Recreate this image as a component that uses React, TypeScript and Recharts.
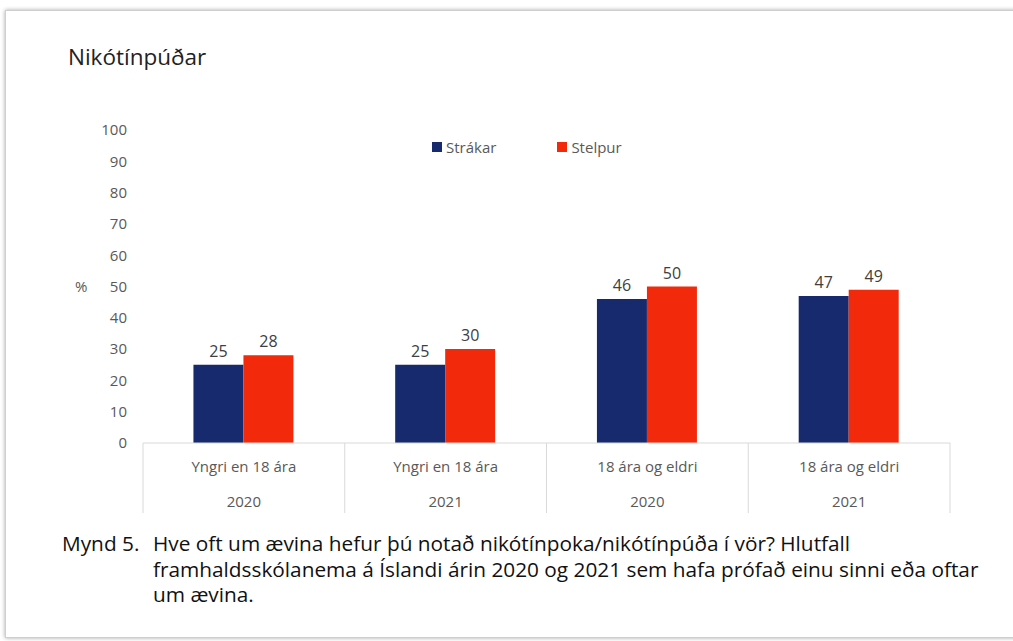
import { Bar, BarChart, LabelList, Legend, XAxis, YAxis } from "recharts";

const categories = ["Yngri en 18 ára", "Yngri en 18 ára", "18 ára og eldri", "18 ára og eldri"];
const years = ["2020", "2021", "2020", "2021"];
const strakar = [25, 25, 46, 47];
const stelpur = [28, 30, 50, 49];
const yTicks = [0, 10, 20, 30, 40, 50, 60, 70, 80, 90, 100];

const BLUE = "#172a6e";
const RED = "#f22a0b";
const GRAY = "#595959";
const LINE = "#d9d9d9";
const FONT = "'Open Sans', sans-serif";

const data = categories.map((c, i) => ({
  idx: i,
  group: c,
  year: years[i],
  strakar: strakar[i],
  stelpur: stelpur[i],
}));

const PLOT_W = 1013 - 143 - 63;

function GroupTick(props: any) {
  const { x, y, index, payload } = props;
  const half = payload?.offset || PLOT_W / categories.length / 2;
  const top = y - 8;
  return (
    <g>
      <line x1={x - half} x2={x - half} y1={top} y2={top + 70} stroke={LINE} />
      {index === categories.length - 1 && (
        <line x1={x + half} x2={x + half} y1={top} y2={top + 70} stroke={LINE} />
      )}
      <text x={x} y={top + 29} textAnchor="middle" fill={GRAY} fontSize={15} fontFamily={FONT}>
        {categories[index]}
      </text>
    </g>
  );
}

function YearTick(props: any) {
  const { x, y, index } = props;
  return (
    <text x={x} y={y + 21} textAnchor="middle" fill={GRAY} fontSize={15} fontFamily={FONT}>
      {years[index]}
    </text>
  );
}

function LegendContent() {
  const items = [
    { name: "Strákar", color: BLUE },
    { name: "Stelpur", color: RED },
  ];
  return (
    <div style={{ display: "flex", gap: 61, fontFamily: FONT, fontSize: 15, lineHeight: "18px", color: GRAY }}>
      {items.map((it) => (
        <div key={it.name} style={{ display: "flex", alignItems: "center", gap: 4 }}>
          <span style={{ width: 10, height: 10, background: it.color, display: "inline-block" }} />
          <span>{it.name}</span>
        </div>
      ))}
    </div>
  );
}

export default function App() {
  return (
    <div style={{ position: "fixed", left: 0, top: 0, width: 1013, height: 641, background: "#fff", overflow: "hidden" }}>
      <div
        style={{
          position: "absolute",
          left: 5,
          top: 10,
          width: 1030,
          height: 626,
          border: "1px solid #cfcfcf",
          boxShadow: "0 0 4px rgba(0,0,0,0.35)",
          background: "#fff",
        }}
      />
      <div style={{ position: "absolute", left: 68, top: 41, fontFamily: FONT, fontSize: 22.5, color: "#222" }}>
        Nikótínpúðar
      </div>
      <div style={{ position: "absolute", left: 0, top: 0 }}>
        <BarChart
          width={1013}
          height={520}
          data={data}
          margin={{ top: 112, right: 63, bottom: 7, left: 0 }}
          barCategoryGap="25%"
          barGap={0}
        >
          <YAxis
            width={143}
            domain={[0, 100]}
            ticks={yTicks}
            interval={0}
            axisLine={false}
            tickLine={false}
            tickMargin={10}
            tick={{ fill: GRAY, fontSize: 15, fontFamily: FONT }}
            label={{ value: "%", position: "insideLeft", offset: 75, fill: GRAY, fontSize: 15, fontFamily: FONT }}
          />
          <XAxis
            dataKey="idx"
            type="category"
            height={35}
            axisLine={{ stroke: LINE }}
            tickLine={false}
            interval={0}
            tick={<GroupTick />}
          />
          <XAxis
            xAxisId="year"
            dataKey="idx"
            type="category"
            height={35}
            axisLine={false}
            tickLine={false}
            interval={0}
            tick={<YearTick />}
          />
          <Legend
            verticalAlign="top"
            content={<LegendContent />}
            wrapperStyle={{ top: 138, left: 432, width: "auto" }}
          />
          <Bar dataKey="strakar" name="Strákar" fill={BLUE} isAnimationActive={false}>
            <LabelList dataKey="strakar" position="top" fill="#404040" fontSize={16} fontFamily={FONT} offset={8} />
          </Bar>
          <Bar dataKey="stelpur" name="Stelpur" fill={RED} isAnimationActive={false}>
            <LabelList dataKey="stelpur" position="top" fill="#404040" fontSize={16} fontFamily={FONT} offset={8} />
          </Bar>
        </BarChart>
      </div>
      <div
        style={{
          position: "absolute",
          left: 62,
          top: 531,
          display: "flex",
          fontFamily: FONT,
          fontSize: 20.8,
          lineHeight: "25.5px",
          color: "#111",
        }}
      >
        <span style={{ width: 91, flex: "none" }}>Mynd 5.</span>
        <span style={{ whiteSpace: "nowrap" }}>
          Hve oft um ævina hefur þú notað nikótínpoka/nikótínpúða í vör? Hlutfall
          <br />
          framhaldsskólanema á Íslandi árin 2020 og 2021 sem hafa prófað einu sinni eða oftar
          <br />
          um ævina.
        </span>
      </div>
    </div>
  );
}
